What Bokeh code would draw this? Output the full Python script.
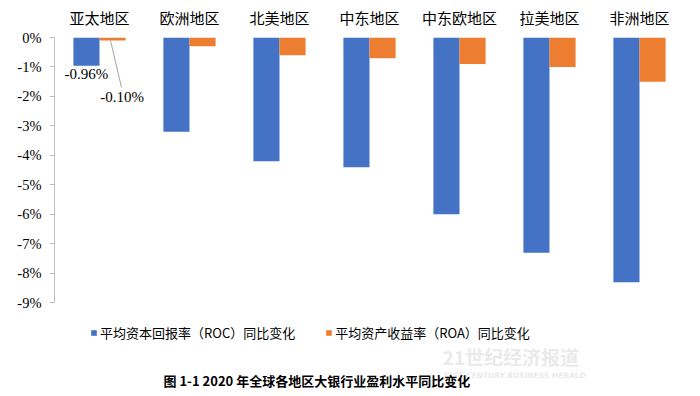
from bokeh.plotting import figure
from bokeh.models import (FactorRange, Range1d, ColumnDataSource, FixedTicker,
                          PrintfTickFormatter, Legend, LegendItem, Label)
from bokeh.transform import dodge
from bokeh.core.properties import value
from bokeh.embed import file_html
from bokeh.resources import INLINE

# ---- data ----
regions = ["亚太地区", "欧洲地区", "北美地区", "中东地区", "中东欧地区", "拉美地区", "非洲地区"]
roc = [-0.96, -3.2, -4.2, -4.4, -6.0, -7.3, -8.3]
roa = [-0.10, -0.3, -0.6, -0.7, -0.9, -1.0, -1.5]
y_ticks = [0, -1, -2, -3, -4, -5, -6, -7, -8, -9]
series_names = ["平均资本回报率（ROC）同比变化", "平均资产收益率（ROA）同比变化"]
title_text = "图 1-1 2020 年全球各地区大银行业盈利水平同比变化"
watermark_cn = "21世纪经济报道"
watermark_en = "21ST CENTURY BUSINESS HERALD"

BLUE = "#4472C4"
ORANGE = "#ED7D31"
CJK = "Noto Sans CJK SC"
SERIF = "Liberation Serif"

# axis spans 0 .. -9; the frame continues below to hold legend and caption
Y_AXIS_MIN = -9
FRAME_BOTTOM = -12.18

p = figure(width=700, height=396,
           x_range=FactorRange(*regions), y_range=Range1d(FRAME_BOTTOM, 0),
           output_backend="svg", toolbar_location=None,
           x_axis_location="above",
           min_border_left=54, min_border_right=16,
           min_border_top=37, min_border_bottom=0)
p.outline_line_color = None
p.xgrid.visible = False
p.ygrid.visible = False
p.background_fill_color = "white"
p.border_fill_color = "white"

src = ColumnDataSource(dict(region=regions, roc=roc, roa=roa))

bw = 0.29
r_roc = p.vbar(x=dodge("region", -0.145, range=p.x_range), top=0, bottom="roc",
               width=bw, source=src, fill_color=BLUE, line_color=None)
r_roa = p.vbar(x=dodge("region", 0.145, range=p.x_range), top=0, bottom="roa",
               width=bw, source=src, fill_color=ORANGE, line_color=None)

# data labels for first region
lab_src = ColumnDataSource(dict(region=[regions[0]], roc=[roc[0]], roa=[roa[0]],
                                roc_txt=[f"{roc[0]:.2f}%"], roa_txt=[f"{roa[0]:.2f}%"],
                                lead_end=[roa[0] - 1.59]))
p.text(x=dodge("region", -0.145, range=p.x_range), y="roc", text="roc_txt", source=lab_src,
       text_align="center", text_baseline="middle", y_offset=8,
       text_font=value(SERIF), text_font_size="15px", text_color="#000000")
p.segment(x0=dodge("region", 0.122, range=p.x_range), y0="roa",
          x1=dodge("region", 0.244, range=p.x_range), y1="lead_end",
          source=lab_src, line_color="#A6A6A6", line_width=1)
p.text(x=dodge("region", 0.25, range=p.x_range), y="roa", text="roa_txt", source=lab_src,
       text_align="center", text_baseline="middle", y_offset=57,
       text_font=value(SERIF), text_font_size="15px", text_color="#000000")

# top category axis
xa = p.xaxis[0]
xa.axis_line_color = None
xa.major_tick_line_color = None
xa.minor_tick_line_color = None
xa.major_label_text_font = CJK
xa.major_label_text_font_size = "15px"
xa.major_label_text_color = "#000000"
xa.major_label_standoff = 4

# y axis
ya = p.yaxis[0]
ya.ticker = FixedTicker(ticks=y_ticks)
ya.bounds = (Y_AXIS_MIN, 0)
ya.formatter = PrintfTickFormatter(format="%d%%")
ya.axis_line_color = "#BFBFBF"
ya.major_tick_line_color = "#BFBFBF"
ya.major_tick_out = 5
ya.major_tick_in = 0
ya.minor_tick_line_color = None
ya.major_label_text_font = SERIF
ya.major_label_text_font_size = "14.5px"
ya.major_label_text_color = "#000000"
ya.major_label_standoff = 8

legend = Legend(items=[LegendItem(label=series_names[0], renderers=[r_roc]),
                       LegendItem(label=series_names[1], renderers=[r_roa])],
                orientation="horizontal", location=(36, 54),
                margin=0, padding=4, spacing=30,
                glyph_width=7, glyph_height=7, label_standoff=3, label_height=16,
                label_text_font=CJK, label_text_font_size="13px",
                label_text_color="#000000",
                border_line_color=None, background_fill_alpha=0)
p.add_layout(legend, "center")

p.add_layout(Label(x=388, y=40, x_units="screen", y_units="screen", text=watermark_cn,
                   text_font=CJK, text_font_size="19px", text_font_style="bold",
                   text_color="#EAEAEA", text_baseline="middle"))
p.add_layout(Label(x=388, y=21, x_units="screen", y_units="screen", text=watermark_en,
                   text_font="DejaVu Sans", text_font_size="7.5px",
                   text_font_style="bold italic",
                   text_color="#EAEAEA", text_baseline="middle"))

p.add_layout(Label(x=109, y=16, x_units="screen", y_units="screen", text=title_text,
                   text_font=CJK, text_font_size="13px", text_font_style="bold",
                   text_color="#000000", text_baseline="middle"))

open("out.html", "w").write(file_html(p, INLINE))
